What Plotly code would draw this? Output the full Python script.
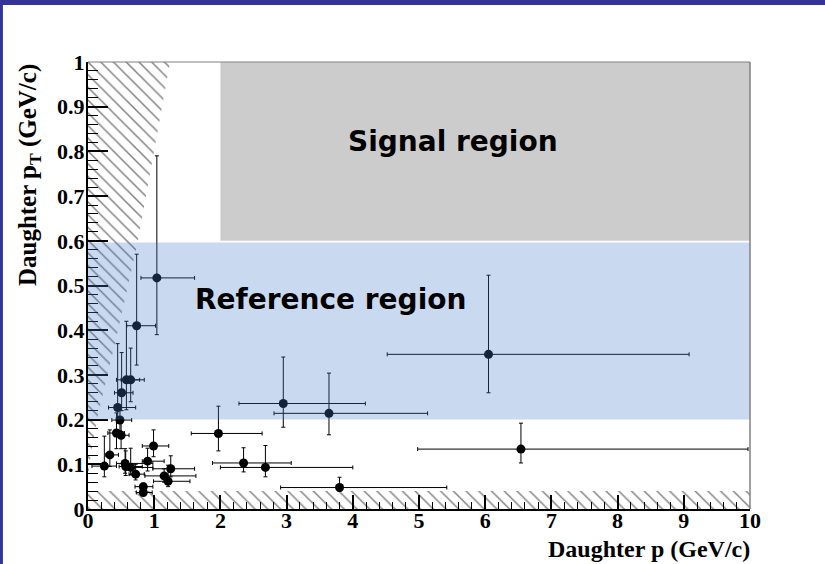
import plotly.graph_objects as go

# Measured daughter tracks: momentum p and transverse momentum pT (GeV/c),
# each with an asymmetric uncertainty interval [lo, hi].
p_val = [1.04, 0.735, 0.58, 0.645, 0.508, 0.448, 0.483, 0.43, 0.50, 0.33,
         0.247, 0.56, 0.57, 0.645, 0.72, 0.99, 0.90, 1.25, 1.15, 1.21,
         0.835, 0.835, 1.97, 2.35, 2.68, 2.95, 3.64, 3.80, 6.05, 6.54]
p_lo = [0.80, 0.585, 0.43, 0.50, 0.40, 0.31, 0.36, 0.30, 0.40, 0.27,
        0.06, 0.43, 0.47, 0.60, 0.62, 0.82, 0.82, 0.98, 0.86, 0.99,
        0.71, 0.73, 1.56, 1.88, 2.00, 2.28, 2.81, 2.91, 4.52, 4.98]
p_hi = [1.61, 1.02, 0.78, 0.85, 0.68, 0.72, 0.66, 0.55, 0.62, 0.46,
        0.43, 0.98, 0.82, 0.98, 0.85, 1.22, 1.15, 1.61, 1.63, 1.54,
        0.98, 0.97, 2.63, 3.07, 4.00, 4.19, 5.13, 5.42, 9.08, 9.97]
pt_val = [0.517, 0.410, 0.289, 0.289, 0.260, 0.227, 0.199, 0.170, 0.165, 0.121,
          0.096, 0.102, 0.095, 0.093, 0.078, 0.141, 0.107, 0.090, 0.074, 0.062,
          0.050, 0.037, 0.169, 0.103, 0.093, 0.236, 0.214, 0.048, 0.346, 0.134]
pt_lo = [0.390, 0.322, 0.222, 0.240, 0.220, 0.204, 0.175, 0.135, 0.135, 0.095,
         0.072, 0.080, 0.075, 0.076, 0.065, 0.117, 0.085, 0.072, 0.060, 0.050,
         0.040, 0.030, 0.130, 0.083, 0.072, 0.183, 0.166, 0.040, 0.260, 0.103]
pt_hi = [0.790, 0.570, 0.420, 0.360, 0.350, 0.370, 0.225, 0.215, 0.200, 0.177,
         0.163, 0.135, 0.130, 0.136, 0.100, 0.177, 0.136, 0.119, 0.090, 0.098,
         0.058, 0.045, 0.230, 0.137, 0.142, 0.340, 0.304, 0.071, 0.523, 0.192]

# Kinematically excluded areas (hatched)
excl_left_p = [0.0, 1.24, 0.755, 0.453, 0.136, 0.02, 0.0, 0.0]
excl_left_pt = [1.0, 1.0, 0.6, 0.4, 0.2, 0.1, 0.05, 1.0]
excl_low_p = [0.0, 10.0, 10.0, 0.0, 0.0]
excl_low_pt = [0.0, 0.0, 0.04, 0.04, 0.0]

# Region boundaries (p range, pT range)
signal_p = [2.0, 10.0]
signal_pt = [0.6, 1.0]
reference_p = [0.0, 10.0]
reference_pt = [0.2, 0.596]

serif = "Liberation Serif"
sans = "DejaVu Sans"

fig = go.Figure()

hatch = dict(shape="\\", size=9, solidity=0.16, fgcolor="black",
             bgcolor="rgba(0,0,0,0)")
for xs, ys in [(excl_left_p, excl_left_pt), (excl_low_p, excl_low_pt)]:
    fig.add_trace(go.Scatter(
        x=xs, y=ys, mode="lines", fill="toself",
        fillcolor="rgba(0,0,0,0)", fillpattern=hatch,
        line=dict(width=0), hoverinfo="skip", showlegend=False))

fig.add_trace(go.Scatter(
    x=p_val, y=pt_val, mode="markers",
    marker=dict(color="black", size=9),
    error_x=dict(type="data", symmetric=False,
                 array=[h - v for h, v in zip(p_hi, p_val)],
                 arrayminus=[v - l for l, v in zip(p_lo, p_val)],
                 color="black", thickness=1, width=2),
    error_y=dict(type="data", symmetric=False,
                 array=[h - v for h, v in zip(pt_hi, pt_val)],
                 arrayminus=[v - l for l, v in zip(pt_lo, pt_val)],
                 color="black", thickness=1, width=2),
    showlegend=False))

shapes = [
    # signal region (behind data)
    dict(type="rect", xref="x", yref="y", layer="below",
         x0=signal_p[0], x1=signal_p[1], y0=signal_pt[0], y1=signal_pt[1],
         fillcolor="#cccccc", line=dict(width=0)),
    # translucent reference region over the data
    dict(type="rect", xref="x", yref="y", layer="above",
         x0=reference_p[0], x1=reference_p[1], y0=reference_pt[0], y1=reference_pt[1],
         fillcolor="rgba(69,124,200,0.29)", line=dict(width=0)),
    # gray top and right frame
    dict(type="line", xref="paper", yref="paper", x0=0, x1=1, y0=1, y1=1,
         line=dict(color="#808080", width=1), layer="above"),
    dict(type="line", xref="paper", yref="paper", x0=1, x1=1, y0=0, y1=1,
         line=dict(color="#808080", width=1.5), layer="above"),
    # page border
    dict(type="rect", xref="paper", yref="paper", x0=-0.1335, x1=1.14,
         y0=1.1275, y1=1.14, fillcolor="#333399", line=dict(width=0)),
    dict(type="rect", xref="paper", yref="paper", x0=-0.1335, x1=-0.1285,
         y0=-0.13, y1=1.14, fillcolor="#333399", line=dict(width=0)),
]

annotations = [
    dict(text="Signal region", x=5.51, y=0.823, xref="x", yref="y",
         showarrow=False, font=dict(family=sans, size=28, color="black", weight="bold")),
    dict(text="Reference region", x=3.66, y=0.468, xref="x", yref="y",
         showarrow=False, font=dict(family=sans, size=28, color="black", weight="bold")),
    dict(text="Daughter p (GeV/c)", x=1.003, y=-0.09, xref="paper", yref="paper",
         xanchor="right", yanchor="middle", showarrow=False,
         font=dict(family=serif, size=24, color="black", weight="bold")),
    dict(text="Daughter p<sub>T</sub> (GeV/c)", x=-0.089, y=1.0, xref="paper", yref="paper",
         xanchor="center", yanchor="top", textangle=-90, showarrow=False,
         font=dict(family=serif, size=25, color="black", weight="bold")),
]

tickfont = dict(family=serif, size=22, color="black", weight="bold")

fig.update_layout(
    width=825, height=564,
    margin=dict(l=88, r=75, t=62, b=55),
    paper_bgcolor="white", plot_bgcolor="white",
    shapes=shapes, annotations=annotations,
    xaxis=dict(range=[0, 10], dtick=1, tick0=0, ticks="inside", ticklen=14,
               tickwidth=1.5, tickcolor="black", showgrid=False, zeroline=False,
               showline=True, linecolor="black", linewidth=2,
               tickfont=tickfont, ticklabelstandoff=-9,
               minor=dict(dtick=0.2, ticks="inside", ticklen=7, tickcolor="black",
                          tickwidth=1, showgrid=False)),
    yaxis=dict(range=[0, 1], dtick=0.1, tick0=0, ticks="inside", ticklen=20,
               tickwidth=1.5, tickcolor="black", showgrid=False, zeroline=False,
               showline=True, linecolor="black", linewidth=2,
               tickfont=tickfont, ticklabelstandoff=-3,
               minor=dict(dtick=0.02, ticks="inside", ticklen=10, tickcolor="black",
                          tickwidth=1, showgrid=False)),
)

fig.write_html("out.html")
